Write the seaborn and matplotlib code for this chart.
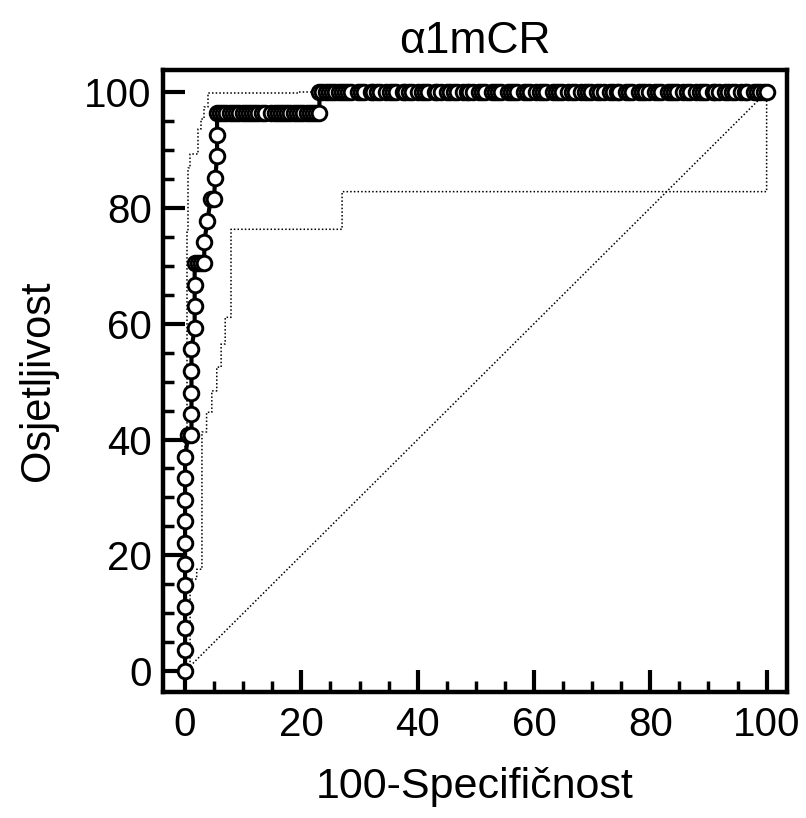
import matplotlib
matplotlib.use("Agg")
import matplotlib.pyplot as plt
import seaborn as sns
import pandas as pd
from matplotlib.ticker import MultipleLocator

sns.set_style("white")
plt.rcParams['font.family'] = ['Liberation Sans', 'DejaVu Sans']
plt.rcParams['text.color'] = 'black'
plt.rcParams['axes.labelcolor'] = 'black'
plt.rcParams['xtick.color'] = 'black'
plt.rcParams['ytick.color'] = 'black'

title = "α1mCR"
xlabel = "100-Specifičnost"
ylabel = "Osjetljivost"
xticks = [0, 20, 40, 60, 80, 100]
yticks = [0, 20, 40, 60, 80, 100]

# ROC points (100-specificity, sensitivity)
rise_fpr = [0, 0, 0, 0, 0, 0, 0, 0, 0, 0, 0,
            0.55, 1.1, 1.1, 1.1, 1.1, 1.1, 1.65, 1.65, 1.65,
            1.65, 2.2, 2.75, 3.3,
            3.3, 3.85, 4.4, 4.95, 5.2, 5.5, 5.5]
rise_tpr = [0, 3.7, 7.4, 11.1, 14.8, 18.5, 22.2, 25.9, 29.6, 33.3, 37.0,
            40.7, 40.7, 44.4, 48.1, 51.9, 55.6, 59.3, 63.0, 66.7,
            70.4, 70.4, 70.4, 70.4,
            74.1, 77.8, 81.5, 81.5, 85.2, 88.9, 92.6]
row96_fpr = [5.5, 6.0, 6.6, 7.1, 7.7, 8.2, 8.8, 9.3, 9.9, 10.4, 11.0, 11.5, 12.1,
             12.6, 13.2, 13.7, 14.8, 15.4, 15.9, 16.5, 17.0, 17.6, 18.1, 18.7,
             19.2, 19.8, 20.3, 20.9, 21.4, 22.0, 22.5, 23.1]
row96_tpr = [96.3] * 32
row100_fpr = [23.1, 23.6, 24.2, 24.7, 25.3, 25.8, 26.4, 26.9, 27.5, 28.0, 28.6, 29.7,
              30.2, 30.8, 31.9, 32.4, 33.0, 33.5, 34.6, 35.2, 35.7, 36.3, 37.4, 37.9,
              38.5, 39.0, 40.1, 40.7, 41.2, 41.8, 42.9, 43.4, 44.0, 45.1, 45.6, 46.2,
              46.7, 47.8, 48.4, 48.9, 49.5, 50.5, 51.1, 51.6, 52.7, 53.3, 53.8, 54.4,
              55.5, 56.0, 56.6, 57.1, 58.2, 58.8, 59.3, 60.4, 61.0, 61.5, 62.1, 63.2,
              63.7, 64.3, 64.8, 65.9, 66.5, 67.0, 68.1, 68.7, 69.2, 69.8, 70.9, 71.4,
              72.0, 73.1, 73.6, 74.2, 74.7, 75.8, 76.4, 76.9, 78.0, 78.6, 79.1, 79.7,
              80.8, 81.3, 81.9, 83.0, 83.5, 84.1, 84.6, 85.7, 86.3, 86.8, 87.9, 88.5,
              89.0, 89.6, 90.7, 91.2, 91.8, 92.9, 93.4, 94.0, 94.5, 95.6, 96.2, 96.7,
              97.8, 98.4, 98.9, 99.5, 100.0]
row100_tpr = [100.0] * 113

roc_fpr = rise_fpr + row96_fpr + row100_fpr
roc_tpr = rise_tpr + row96_tpr + row100_tpr

# confidence band corners
upper_x = [0, 0, 0.35, 0.35, 0.46, 0.46, 0.86, 0.86, 2.3, 2.3, 2.75, 2.75,
           3.3, 3.3, 4.0, 4.0, 19.5, 19.5, 100]
upper_y = [0, 40, 40, 75.8, 75.8, 86.9, 86.9, 89.3, 89.3, 93.6, 93.6, 95.3,
           95.3, 97.4, 97.4, 99.8, 99.8, 100, 100]
lower_x = [0, 0.86, 0.86, 2.0, 2.0, 2.9, 2.9, 3.7, 3.7, 4.6, 4.6, 5.45, 5.45,
           6.2, 6.2, 6.9, 6.9, 7.9, 7.9, 27.0, 27.0, 100, 100]
lower_y = [0, 0.9, 15.9, 15.9, 17.6, 17.6, 41.3, 41.3, 44.7, 44.7, 48.4, 48.4,
           52.5, 52.5, 56.5, 56.5, 61.1, 61.1, 76.3, 76.3, 82.8, 82.8, 99.0]
diag_x = [0, 100]
diag_y = [0, 100]

fig = plt.figure(figsize=(8.06, 8.18), dpi=100)
ax = fig.add_axes([0.2022, 0.154, 0.7742, 0.7604])

dot = (0, (1, 1.4))
sns.lineplot(x=diag_x, y=diag_y, sort=False, estimator=None, color='black',
             lw=1.1, linestyle=dot, ax=ax)
sns.lineplot(x=upper_x, y=upper_y, sort=False, estimator=None, color='black',
             lw=1.1, linestyle=dot, ax=ax)
sns.lineplot(x=lower_x, y=lower_y, sort=False, estimator=None, color='black',
             lw=1.1, linestyle=dot, ax=ax)
sns.lineplot(x=roc_fpr, y=roc_tpr, sort=False, estimator=None, color='black',
             lw=3, marker='o', markersize=10.5, markerfacecolor='white',
             markeredgecolor='black', markeredgewidth=2.1, ax=ax)

ax.set_xlim(-3.8, 103.5)
ax.set_ylim(-3.6, 103.8)
ax.set_xticks(xticks)
ax.set_yticks(yticks)
ax.xaxis.set_minor_locator(MultipleLocator(5))
ax.yaxis.set_minor_locator(MultipleLocator(5))
ax.tick_params(which='both', bottom=True, left=True, top=False, right=False)
ax.tick_params(which='major', direction='in', length=16, width=3,
               labelsize=29, color='black', labelcolor='black', pad=10)
ax.tick_params(which='minor', direction='in', length=8, width=2.5, color='black')
ax.tick_params(axis='y', which='major', pad=8)
for s in ax.spines.values():
    s.set_linewidth(3.2)
    s.set_color('black')

ax.set_title(title, fontsize=32, pad=12, color='black')
ax.set_xlabel(xlabel, fontsize=31, color='black', va='baseline')
ax.set_ylabel(ylabel, fontsize=30, color='black', va='center')
ax.xaxis.set_label_coords(0.5, -0.17)
ax.yaxis.set_label_coords(-0.2, 0.5)

fig.savefig("out.png", dpi=100)
